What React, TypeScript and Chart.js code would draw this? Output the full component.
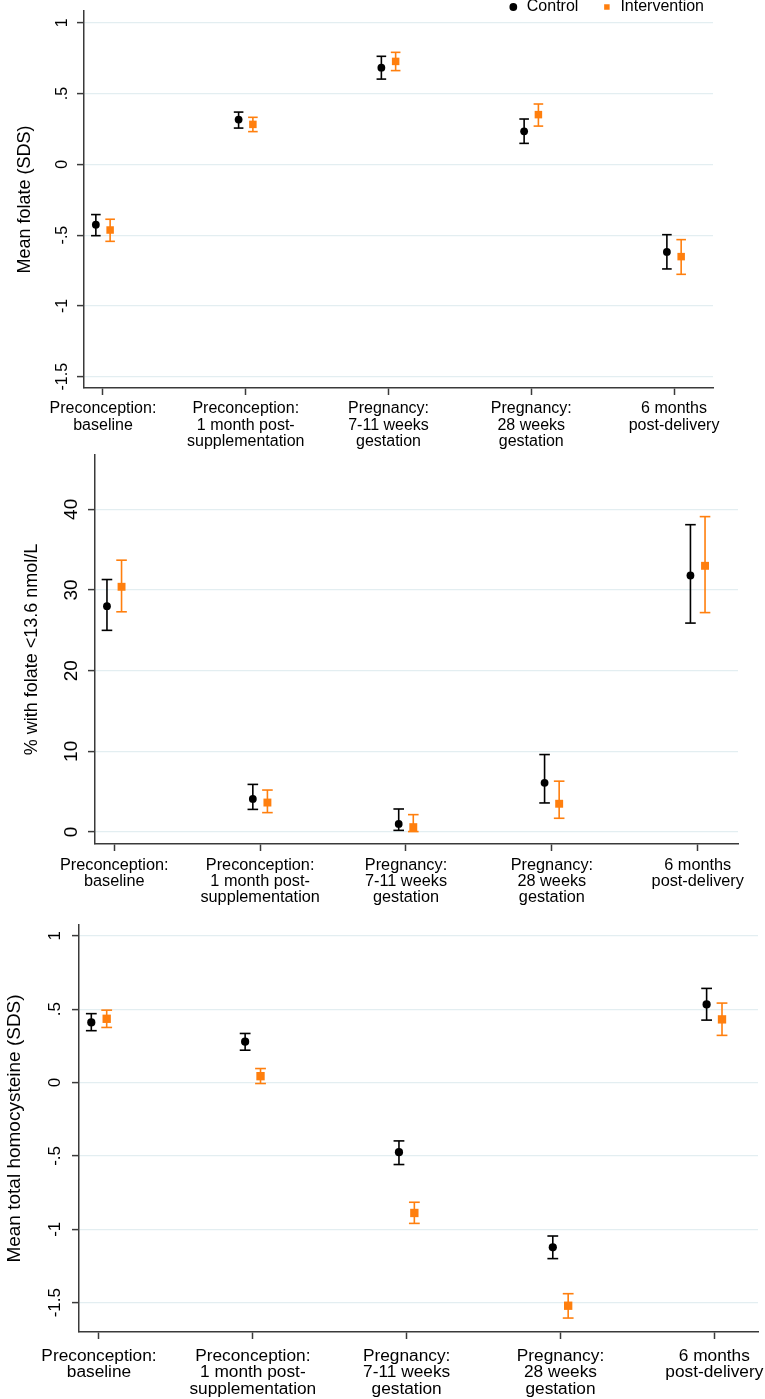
import React, { useEffect, useRef } from "react";
import { Chart, registerables } from "chart.js";

Chart.register(...registerables);

const FONT = "'Liberation Sans', Arial, Helvetica, sans-serif";
const AXIS = "#3a3a3a";
const GRID = "#e3eef1";
const ORANGE = "#ff7f0e";
const INK = "#000000";

// ---- shared categories ----
const categoryLabels = [
  ["Preconception:", "baseline"],
  ["Preconception:", "1 month post-", "supplementation"],
  ["Pregnancy:", "7-11 weeks", "gestation"],
  ["Pregnancy:", "28 weeks", "gestation"],
  ["6 months", "post-delivery"],
];
const categoryIndex = [0, 1, 2, 3, 4];
const seriesLabels = ["Control", "Intervention"];

// ---- panel 1: mean folate ----
const folateTitle = "Mean folate (SDS)";
const folateTicks = [-1.5, -1, -0.5, 0, 0.5, 1];
const folateTickLabels = ["-1.5", "-1", "-.5", "0", ".5", "1"];
const folateControl = [-0.426, 0.316, 0.683, 0.233, -0.619];
const folateControlLo = [-0.504, 0.256, 0.602, 0.148, -0.739];
const folateControlHi = [-0.355, 0.369, 0.763, 0.32, -0.497];
const folateInterv = [-0.464, 0.282, 0.727, 0.351, -0.652];
const folateIntervLo = [-0.544, 0.231, 0.662, 0.27, -0.777];
const folateIntervHi = [-0.388, 0.332, 0.791, 0.426, -0.532];

// ---- panel 2: % with low folate ----
const lowTitle = "% with folate <13.6 nmol/L";
const lowTicks = [0, 10, 20, 30, 40];
const lowTickLabels = ["0", "10", "20", "30", "40"];
const lowControl = [28.0, 4.1, 1.0, 6.1, 31.8];
const lowControlLo = [25.0, 2.8, 0.2, 3.6, 25.9];
const lowControlHi = [31.3, 5.9, 2.85, 9.6, 38.1];
const lowInterv = [30.4, 3.65, 0.6, 3.5, 33.0];
const lowIntervLo = [27.3, 2.4, 0.05, 1.7, 27.2];
const lowIntervHi = [33.7, 5.2, 2.15, 6.3, 39.1];

// ---- panel 3: mean total homocysteine ----
const hcyTitle = "Mean total homocysteine (SDS)";
const hcyTicks = [-1.5, -1, -0.5, 0, 0.5, 1];
const hcyTickLabels = ["-1.5", "-1", "-.5", "0", ".5", "1"];
const hcyControl = [0.409, 0.278, -0.475, -1.123, 0.532];
const hcyControlLo = [0.353, 0.22, -0.559, -1.2, 0.425];
const hcyControlHi = [0.469, 0.334, -0.398, -1.046, 0.641];
const hcyInterv = [0.434, 0.043, -0.889, -1.521, 0.43];
const hcyIntervLo = [0.375, -0.007, -0.96, -1.605, 0.321];
const hcyIntervHi = [0.493, 0.095, -0.816, -1.439, 0.541];

const panelSpecs = [
  {
    key: "folate",
    title: folateTitle, ticks: folateTicks, tickLabels: folateTickLabels,
    control: folateControl, controlLo: folateControlLo, controlHi: folateControlHi,
    interv: folateInterv, intervLo: folateIntervLo, intervHi: folateIntervHi,
    xMin: -0.133, xMax: 4.273, yMin: -1.58, yMax: 1.083,
    canvasTop: 0, canvasHeight: 455, areaLeft: 84, areaRight: 713, areaTop: 11, xAxisHeight: 67,
    yTickFont: 16, yTickPad: 0.4, titleFont: 18, titlePad: 14.7,
    xTickFont: 16, xLineHeight: 1.01, xTickPad: 6,
    dot: 3.9, sq: 5.3, cap: 4.8, legend: true,
  },
  {
    key: "low",
    title: lowTitle, ticks: lowTicks, tickLabels: lowTickLabels,
    control: lowControl, controlLo: lowControlLo, controlHi: lowControlHi,
    interv: lowInterv, intervLo: lowIntervLo, intervHi: lowIntervHi,
    xMin: -0.132, xMax: 4.276, yMin: -1.49, yMax: 46.74,
    canvasTop: 435, canvasHeight: 479, areaLeft: 95, areaRight: 738, areaTop: 455, xAxisHeight: 70,
    yTickFont: 19, yTickPad: 5.7, titleFont: 18, titlePad: 21.5,
    xTickFont: 16.3, xLineHeight: 0.99, xTickPad: 6.2,
    dot: 3.9, sq: 5.6, cap: 5.3, legend: false,
  },
  {
    key: "hcy",
    title: hcyTitle, ticks: hcyTicks, tickLabels: hcyTickLabels,
    control: hcyControl, controlLo: hcyControlLo, controlHi: hcyControlHi,
    interv: hcyInterv, intervLo: hcyIntervLo, intervHi: hcyIntervHi,
    xMin: -0.13, xMax: 4.284, yMin: -1.70, yMax: 1.073,
    canvasTop: 905, canvasHeight: 494, areaLeft: 79, areaRight: 758, areaTop: 925, xAxisHeight: 67,
    yTickFont: 17, yTickPad: 1.6, titleFont: 19, titlePad: 3.7,
    xTickFont: 17.3, xLineHeight: 0.95, xTickPad: 8.9,
    dot: 4.1, sq: 5.9, cap: 5.4, legend: false,
  },
];

const legendPlacement = {
  id: "legendPlacement",
  afterLayout(chart: any, _args: any, opts: any) {
    if (!opts || typeof opts.top !== "number") return;
    const lg = chart.legend;
    if (!lg) return;
    lg.top = opts.top;
    lg.height = opts.height;
    lg.bottom = opts.top + opts.height;
    lg.right = opts.right;
    lg.left = opts.right - 420;
    lg.width = 420;
  },
};

function zeroPadding(scale: any) {
  scale.paddingLeft = 0;
  scale.paddingRight = 0;
  scale.paddingTop = 0;
  scale.paddingBottom = 0;
}

function Panel({ spec }: { spec: any }) {
  const ref = useRef<HTMLCanvasElement | null>(null);

  useEffect(() => {
    const s = spec;
    const canvas = ref.current;
    if (!canvas) return;
    const dx = 0.05;
    const pts = (vals: number[], off: number) =>
      vals.map((v, i) => ({ x: categoryIndex[i] + off, y: v }));
    const ci = (lo: number[], hi: number[], off: number) =>
      lo.flatMap((l, i) => [
        { x: categoryIndex[i] + off, y: l },
        { x: categoryIndex[i] + off, y: hi[i] },
        { x: categoryIndex[i] + off, y: null },
      ]);

    const chart = new Chart(canvas, {
      type: "scatter",
      data: {
        datasets: [
          {
            label: seriesLabels[0],
            data: pts(s.control, -dx),
            pointStyle: "circle",
            pointRadius: s.dot,
            pointHoverRadius: s.dot,
            backgroundColor: INK,
            pointBackgroundColor: INK,
            borderColor: INK,
            pointBorderWidth: 0,
            order: 0,
          },
          {
            label: seriesLabels[1],
            data: pts(s.interv, dx),
            pointStyle: "rect",
            pointRadius: s.sq,
            pointHoverRadius: s.sq,
            backgroundColor: ORANGE,
            pointBackgroundColor: ORANGE,
            borderColor: ORANGE,
            pointBorderWidth: 0,
            order: 0,
          },
          {
            label: seriesLabels[0] + " 95% CI",
            data: ci(s.controlLo, s.controlHi, -dx),
            showLine: true,
            spanGaps: false,
            borderColor: INK,
            borderWidth: 1.6,
            pointStyle: "line",
            pointRadius: s.cap,
            pointHoverRadius: s.cap,
            pointBorderColor: INK,
            pointBorderWidth: 1.6,
            order: 1,
          },
          {
            label: seriesLabels[1] + " 95% CI",
            data: ci(s.intervLo, s.intervHi, dx),
            showLine: true,
            spanGaps: false,
            borderColor: ORANGE,
            borderWidth: 1.6,
            pointStyle: "line",
            pointRadius: s.cap,
            pointHoverRadius: s.cap,
            pointBorderColor: ORANGE,
            pointBorderWidth: 1.6,
            order: 1,
          },
        ],
      },
      options: {
        responsive: false,
        maintainAspectRatio: false,
        animation: false,
        devicePixelRatio: 1,
        events: [],
        layout: {
          padding: {
            left: 0,
            right: 765 - s.areaRight,
            top: s.areaTop - s.canvasTop - (s.legend ? 1 : 0),
            bottom: 0,
          },
        },
        plugins: {
          tooltip: { enabled: false },
          legend: s.legend
            ? {
                display: true,
                position: "top",
                align: "end",
                maxHeight: 1,
                labels: {
                  usePointStyle: true,
                  boxWidth: 11,
                  boxHeight: 5.5,
                  padding: 23,
                  color: INK,
                  font: { family: FONT, size: 16 },
                  filter: (item: any) => item.datasetIndex < 2,
                },
              }
            : { display: false },
          legendPlacement: s.legend ? { top: -24, height: 62, right: 727 } : {},
        } as any,
        scales: {
          x: {
            type: "linear",
            min: s.xMin,
            max: s.xMax,
            afterBuildTicks: (sc: any) => {
              sc.ticks = categoryIndex.map((v) => ({ value: v }));
            },
            afterFit: (sc: any) => {
              sc.height = s.xAxisHeight;
              zeroPadding(sc);
            },
            ticks: {
              autoSkip: false,
              minRotation: 0,
              maxRotation: 0,
              padding: s.xTickPad,
              color: INK,
              font: { family: FONT, size: s.xTickFont, lineHeight: s.xLineHeight },
              callback: (v: any) => categoryLabels[Math.round(Number(v))] ?? "",
            },
            grid: {
              display: true,
              drawOnChartArea: false,
              drawTicks: true,
              tickLength: 7,
              tickWidth: 1.5,
              tickColor: AXIS,
              color: AXIS,
            },
            border: { display: true, color: AXIS, width: 1.5 },
          },
          y: {
            type: "linear",
            min: s.yMin,
            max: s.yMax,
            afterBuildTicks: (sc: any) => {
              sc.ticks = s.ticks.map((v: number) => ({ value: v }));
            },
            afterFit: (sc: any) => {
              sc.width = s.areaLeft;
              zeroPadding(sc);
            },
            ticks: {
              minRotation: 90,
              maxRotation: 90,
              crossAlign: "center",
              padding: s.yTickPad,
              color: INK,
              font: { family: FONT, size: s.yTickFont },
              callback: (v: any) => {
                const k = s.ticks.indexOf(Number(v));
                return k >= 0 ? s.tickLabels[k] : "";
              },
            },
            grid: {
              color: GRID,
              lineWidth: 1.2,
              drawTicks: true,
              tickLength: 7,
              tickWidth: 1.5,
              tickColor: AXIS,
            },
            border: { display: true, color: AXIS, width: 1.5 },
            title: {
              display: true,
              text: s.title,
              color: INK,
              font: { family: FONT, size: s.titleFont, lineHeight: 1.2 },
              padding: { top: s.titlePad, bottom: 0 },
            },
          },
        },
      } as any,
      plugins: s.legend ? [legendPlacement as any] : [],
    });

    return () => chart.destroy();
  }, [spec]);

  return (
    <canvas
      ref={ref}
      width={765}
      height={spec.canvasHeight}
      style={{ position: "absolute", left: 0, top: spec.canvasTop, width: 765, height: spec.canvasHeight }}
    />
  );
}

export default function App() {
  return (
    <div
      style={{
        position: "absolute",
        left: 0,
        top: 0,
        width: 765,
        height: 1399,
        overflow: "hidden",
        background: "#ffffff",
      }}
    >
      {panelSpecs.map((s) => (
        <Panel key={s.key} spec={s} />
      ))}
    </div>
  );
}
